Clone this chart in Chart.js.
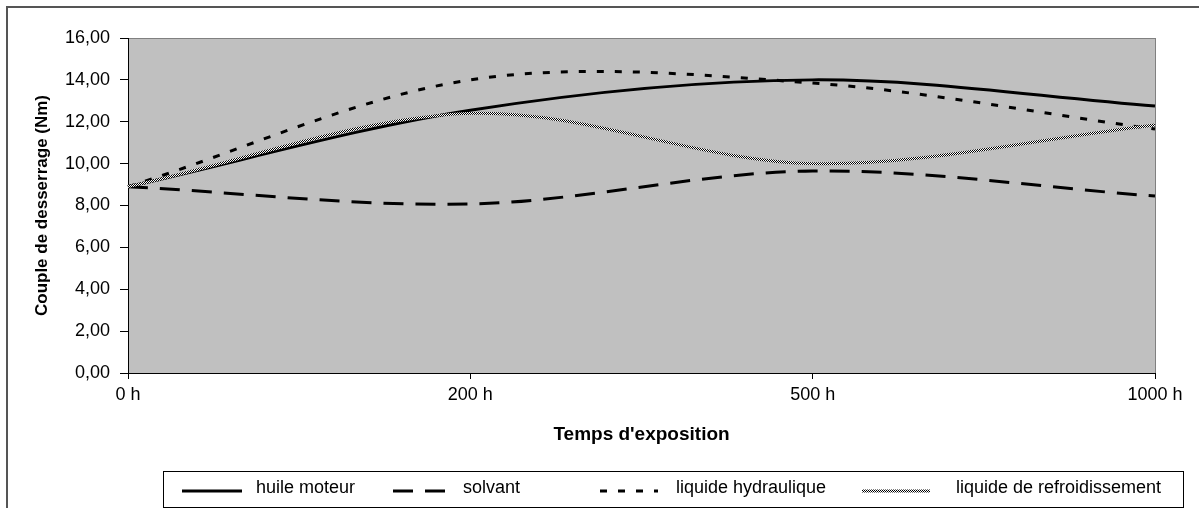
<!DOCTYPE html>
<html>
<head>
<meta charset="utf-8">
<script src="https://cdn.jsdelivr.net/npm/chart.js@4.4.0/dist/chart.umd.min.js"></script>
<style>
  html, body { margin: 0; padding: 0; background: #fff; }
  #wrap { width: 1199px; height: 508px; }
</style>
</head>
<body>
<div id="wrap"><canvas id="myLineChart" width="1199" height="508"></canvas></div>
<script>
// DATA
var hours = ['0 h', '200 h', '500 h', '1000 h'];
var huileMoteur = [8.9, 12.55, 14.0, 12.75];
var solvant = [8.9, 8.07, 9.65, 8.45];
var liquideHydraulique = [8.9, 14.0, 13.85, 11.65];
var liquideRefroidissement = [8.9, 12.4, 10.0, 11.85];
var yTicks = [0, 2, 4, 6, 8, 10, 12, 14, 16];

Chart.defaults.font.family = '"Liberation Sans", Arial, sans-serif';
Chart.defaults.color = '#000';

// CHECKER PATTERN FOR THE COOLANT LINE
var pc = document.createElement('canvas');
pc.width = 2; pc.height = 2;
var pctx = pc.getContext('2d');
pctx.fillStyle = '#fff';
pctx.fillRect(0, 0, 2, 2);
pctx.fillStyle = '#000';
pctx.fillRect(0, 0, 1, 1);
pctx.fillRect(1, 1, 1, 1);
var checker = pctx.createPattern(pc, 'repeat');

// GREY PLOT AREA + OUTER FRAME
var background = {
  id: 'background',
  beforeDraw: function(chart) {
    var ctx = chart.ctx, a = chart.chartArea;
    ctx.save();
    ctx.fillStyle = '#fff';
    ctx.fillRect(0, 0, chart.width, chart.height);
    ctx.strokeStyle = '#555';
    ctx.lineWidth = 2;
    ctx.strokeRect(7, 7, chart.width + 20, chart.height + 20);
    ctx.fillStyle = '#c0c0c0';
    ctx.fillRect(a.left, a.top, a.right - a.left, a.bottom - a.top);
    ctx.strokeStyle = '#808080';
    ctx.lineWidth = 1;
    ctx.strokeRect(a.left + 0.5, a.top + 0.5, a.right - a.left, a.bottom - a.top);
    ctx.restore();
  }
};

// LEGEND IN A BOX (excel style)
var boxedLegend = {
  id: 'boxedLegend',
  afterDraw: function(chart, args, opts) {
    var ctx = chart.ctx;
    ctx.save();
    ctx.strokeStyle = '#000';
    ctx.lineWidth = 1;
    ctx.strokeRect(opts.box[0] + 0.5, opts.box[1] + 0.5, opts.box[2], opts.box[3]);
    chart.data.datasets.forEach(function(ds, i) {
      var x = opts.sampleX[i];
      ctx.beginPath();
      ctx.setLineDash(ds.borderDash || []);
      ctx.strokeStyle = ds.borderColor;
      ctx.lineWidth = ds.borderWidth;
      ctx.moveTo(x, opts.lineY);
      ctx.lineTo(x + opts.sampleW[i], opts.lineY);
      ctx.stroke();
      ctx.setLineDash([]);
      ctx.fillStyle = '#000';
      ctx.font = '18px "Liberation Sans", Arial, sans-serif';
      ctx.textBaseline = 'middle';
      ctx.fillText(ds.label, opts.textX[i], opts.textY);
    });
    ctx.restore();
  }
};

var ctx = document.getElementById('myLineChart').getContext('2d');
var chart = new Chart(ctx, {
    type: 'line',
    data: {
        labels: hours,
        datasets: [{
            label: 'huile moteur',
            data: huileMoteur,
            borderColor: '#000',
            borderWidth: 3,
            order: 3
        }, {
            label: 'solvant',
            data: solvant,
            borderColor: '#000',
            borderWidth: 3,
            borderDash: [20, 12],
            order: 2
        }, {
            label: 'liquide hydraulique',
            data: liquideHydraulique,
            borderColor: '#000',
            borderWidth: 3,
            borderDash: [7, 11],
            order: 1
        }, {
            label: 'liquide de refroidissement',
            data: liquideRefroidissement,
            borderColor: checker,
            borderWidth: 3,
            order: 0
        }]
    },
    options: {
        responsive: false,
        animation: false,
        devicePixelRatio: 1,
        layout: { padding: { left: 0, right: 44, top: 38, bottom: 55 } },
        elements: {
            point: { radius: 0 },
            line: { tension: 0.33, fill: false }
        },
        scales: {
            x: {
                type: 'category',
                offset: false,
                grid: { drawOnChartArea: false, tickLength: 6, color: '#000' },
                border: { color: '#000' },
                ticks: { font: { size: 18 }, padding: 5, maxRotation: 0, autoSkip: false },
                title: {
                    display: true,
                    text: "Temps d'exposition",
                    font: { size: 19, weight: 'bold' },
                    padding: { top: 0, bottom: 7 }
                },
                afterFit: function(s) { s.height = 80; }
            },
            y: {
                min: 0,
                max: 16,
                afterBuildTicks: function(s) {
                    s.ticks = yTicks.map(function(v) { return { value: v }; });
                },
                grid: { drawOnChartArea: false, tickLength: 8, color: '#000' },
                border: { color: '#000' },
                ticks: {
                    font: { size: 18 },
                    padding: 10,
                    callback: function(v) { return v.toFixed(2).replace('.', ','); }
                },
                title: {
                    display: true,
                    text: 'Couple de desserrage (Nm)',
                    font: { size: 17, weight: 'bold' },
                    padding: { top: 32, bottom: 0 }
                },
                afterFit: function(s) { s.width = 128; }
            }
        },
        plugins: {
            legend: { display: false },
            tooltip: { enabled: false },
            boxedLegend: {
                box: [163, 471, 1020, 36],
                sampleX: [182, 393, 600, 862],
                sampleW: [60, 52, 58, 68],
                textX: [256, 463, 676, 956],
                lineY: 491,
                textY: 488
            }
        }
    },
    plugins: [background, boxedLegend]
});
</script>
</body>
</html>
